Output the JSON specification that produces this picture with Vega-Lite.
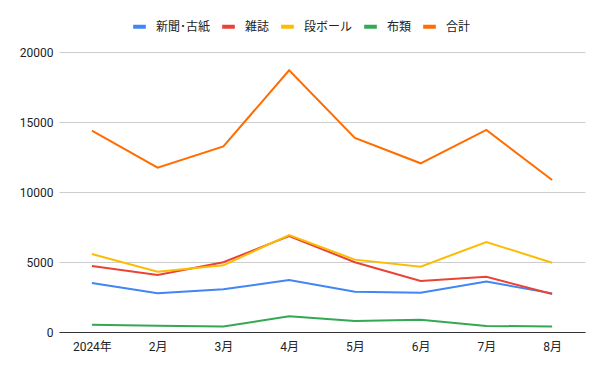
{
  "$schema": "https://vega.github.io/schema/vega-lite/v6.json",
  "autosize": "none",
  "width": 526,
  "height": 280,
  "padding": {"left": 59, "top": 52, "right": 15, "bottom": 39},
  "background": "white",
  "config": {
    "font": "Roboto, Noto Sans CJK JP",
    "view": {"stroke": null},
    "axis": {"labelFont": "Roboto, Noto Sans CJK JP", "labelFontSize": 12, "labelColor": "#222222", "title": null}
  },
  "data": {
    "values": [
      {"month": "2024年", "series": "新聞･古紙", "value": 3500},
      {"month": "2月", "series": "新聞･古紙", "value": 2760},
      {"month": "3月", "series": "新聞･古紙", "value": 3050},
      {"month": "4月", "series": "新聞･古紙", "value": 3710},
      {"month": "5月", "series": "新聞･古紙", "value": 2880},
      {"month": "6月", "series": "新聞･古紙", "value": 2810},
      {"month": "7月", "series": "新聞･古紙", "value": 3600},
      {"month": "8月", "series": "新聞･古紙", "value": 2760},
      {"month": "2024年", "series": "雑誌", "value": 4710},
      {"month": "2月", "series": "雑誌", "value": 4070},
      {"month": "3月", "series": "雑誌", "value": 4980},
      {"month": "4月", "series": "雑誌", "value": 6860},
      {"month": "5月", "series": "雑誌", "value": 4980},
      {"month": "6月", "series": "雑誌", "value": 3640},
      {"month": "7月", "series": "雑誌", "value": 3950},
      {"month": "8月", "series": "雑誌", "value": 2710},
      {"month": "2024年", "series": "段ボール", "value": 5570},
      {"month": "2月", "series": "段ボール", "value": 4310},
      {"month": "3月", "series": "段ボール", "value": 4760},
      {"month": "4月", "series": "段ボール", "value": 6930},
      {"month": "5月", "series": "段ボール", "value": 5170},
      {"month": "6月", "series": "段ボール", "value": 4670},
      {"month": "7月", "series": "段ボール", "value": 6430},
      {"month": "8月", "series": "段ボール", "value": 4950},
      {"month": "2024年", "series": "布類", "value": 520},
      {"month": "2月", "series": "布類", "value": 450},
      {"month": "3月", "series": "布類", "value": 400},
      {"month": "4月", "series": "布類", "value": 1120},
      {"month": "5月", "series": "布類", "value": 790},
      {"month": "6月", "series": "布類", "value": 880},
      {"month": "7月", "series": "布類", "value": 430},
      {"month": "8月", "series": "布類", "value": 400},
      {"month": "2024年", "series": "合計", "value": 14380},
      {"month": "2月", "series": "合計", "value": 11740},
      {"month": "3月", "series": "合計", "value": 13260},
      {"month": "4月", "series": "合計", "value": 18690},
      {"month": "5月", "series": "合計", "value": 13860},
      {"month": "6月", "series": "合計", "value": 12050},
      {"month": "7月", "series": "合計", "value": 14430},
      {"month": "8月", "series": "合計", "value": 10860}
    ]
  },
  "mark": {"type": "line", "strokeWidth": 2},
  "encoding": {
    "x": {
      "field": "month", "type": "ordinal",
      "sort": ["2024年", "2月", "3月", "4月", "5月", "6月", "7月", "8月"],
      "scale": {"type": "point", "padding": 0.5},
      "axis": {"labelAngle": 0, "domainColor": "#333333", "domainWidth": 1, "ticks": false, "labelPadding": 9, "grid": false}
    },
    "y": {
      "field": "value", "type": "quantitative",
      "scale": {"domain": [0, 20000]},
      "axis": {"values": [0, 5000, 10000, 15000, 20000], "domain": false, "ticks": false, "labelPadding": 6, "gridColor": "#cccccc", "format": "d"}
    },
    "color": {
      "field": "series", "type": "nominal",
      "sort": ["新聞･古紙", "雑誌", "段ボール", "布類", "合計"],
      "scale": {"domain": ["新聞･古紙", "雑誌", "段ボール", "布類", "合計"], "range": ["#4285F4", "#EA4335", "#FBBC04", "#34A853", "#FF6D01"]},
      "legend": {
        "title": null, "orient": "none", "direction": "horizontal",
        "legendX": 72, "legendY": -34,
        "symbolType": "stroke", "symbolStrokeWidth": 4, "symbolSize": 160,
        "labelFontSize": 12, "labelColor": "#222222", "labelFont": "Roboto, Noto Sans CJK JP",
        "columnPadding": 3, "labelOffset": 8
      }
    }
  }
}
